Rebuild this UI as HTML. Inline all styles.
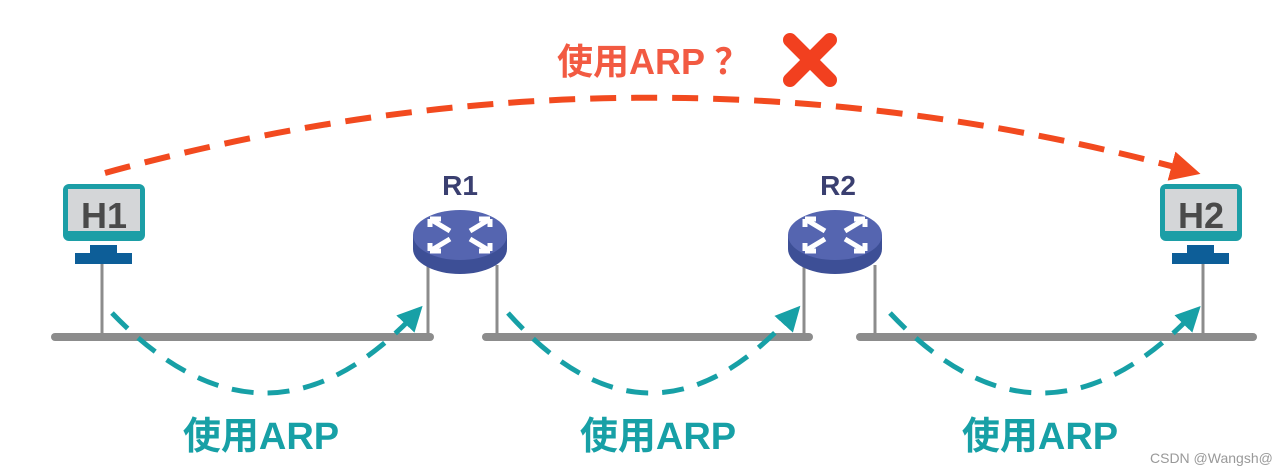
<!DOCTYPE html>
<html><head><meta charset="utf-8"><style>
html,body{margin:0;padding:0;background:#fff;}
svg{display:block}
.t{font-family:"Liberation Sans","Noto Sans CJK SC",sans-serif;font-weight:bold;}
</style></head><body>
<svg width="1280" height="473" viewBox="0 0 1280 473" xmlns="http://www.w3.org/2000/svg">
<defs>
<marker id="ar" markerWidth="5" markerHeight="5" refX="2.5" refY="2.5" orient="auto" markerUnits="strokeWidth">
<path d="M0,0 L5,2.5 L0,5 Z" fill="#f24a1f"/></marker>
<marker id="at" markerWidth="5" markerHeight="5" refX="2.5" refY="2.5" orient="auto" markerUnits="strokeWidth">
<path d="M0,0 L5,2.5 L0,5 Z" fill="#17a0a6"/></marker>
<g id="router">
<path d="M-47,0 L-47,14 A47,25 0 0 0 47,14 L47,0 Z" fill="#3d4f96"/>
<ellipse cx="0" cy="0" rx="47" ry="25" fill="#5565b0"/>
<g stroke="#fff" stroke-width="5" fill="none">
<path d="M-30,-16 L-10,-4 M-30,-16 l11,0 M-30,-16 l0,8"/>
<path d="M30,-16 L10,-4 M30,-16 l-11,0 M30,-16 l0,8"/>
<path d="M-30,16 L-10,4 M-30,16 l11,0 M-30,16 l0,-8"/>
<path d="M30,16 L10,4 M30,16 l-11,0 M30,16 l0,-8"/>
</g>
</g>
<g id="host">
<rect x="0" y="0" width="82" height="57" rx="6" fill="#1c9ea6"/>
<rect x="5" y="5" width="72" height="42" fill="#d4d6d8"/>
<rect x="27" y="61" width="27" height="9" fill="#0d5e98"/>
<rect x="12" y="69" width="57" height="11" fill="#0d5e98"/>
</g>
</defs>

<g stroke="#8c8c8c" stroke-width="8" stroke-linecap="round">
<line x1="55" y1="337" x2="430" y2="337"/>
<line x1="486" y1="337" x2="809" y2="337"/>
<line x1="860" y1="337" x2="1253" y2="337"/>
</g>
<g stroke="#8c8c8c" stroke-width="3">
<line x1="102" y1="263" x2="102" y2="335"/>
<line x1="428" y1="265" x2="428" y2="335"/>
<line x1="497" y1="265" x2="497" y2="335"/>
<line x1="804" y1="265" x2="804" y2="335"/>
<line x1="875" y1="265" x2="875" y2="335"/>
<line x1="1203" y1="263" x2="1203" y2="335"/>
</g>

<use href="#host" x="63" y="184"/>
<text class="t" x="104" y="228" font-size="36" fill="#4a4a4a" text-anchor="middle">H1</text>
<use href="#host" x="1160" y="184"/>
<text class="t" x="1201" y="228" font-size="36" fill="#4a4a4a" text-anchor="middle">H2</text>

<use href="#router" x="460" y="235"/>
<use href="#router" x="835" y="235"/>
<text class="t" x="460" y="195" font-size="28" fill="#3a3f70" text-anchor="middle">R1</text>
<text class="t" x="838" y="195" font-size="28" fill="#3a3f70" text-anchor="middle">R2</text>

<path d="M105,173 Q645,24 1186,170" fill="none" stroke="#f24a1f" stroke-width="6" stroke-dasharray="26,15" marker-end="url(#ar)"/>
<g fill="none" stroke="#17a0a6" stroke-width="5" stroke-dasharray="22,14" marker-end="url(#at)">
<path d="M112,313 Q265,472 414,315"/>
<path d="M508,313 Q650,472 792,315"/>
<path d="M890,313 Q1040,472 1192,315"/>
</g>

<text class="t" x="557" y="74" font-size="36" fill="#f25a42">使用ARP ？</text>
<g stroke="#f2401f" stroke-width="14" stroke-linecap="round">
<line x1="790" y1="40" x2="830" y2="80"/><line x1="830" y1="40" x2="790" y2="80"/>
</g>

<g class="t" font-size="38" fill="#17a0a6" text-anchor="middle">
<text x="261" y="449">使用ARP</text>
<text x="658" y="449">使用ARP</text>
<text x="1040" y="449">使用ARP</text>
</g>
<text x="1150" y="463" font-family="Liberation Sans,sans-serif" font-size="14" fill="#999">CSDN @Wangsh@</text>
</svg>
</body></html>
